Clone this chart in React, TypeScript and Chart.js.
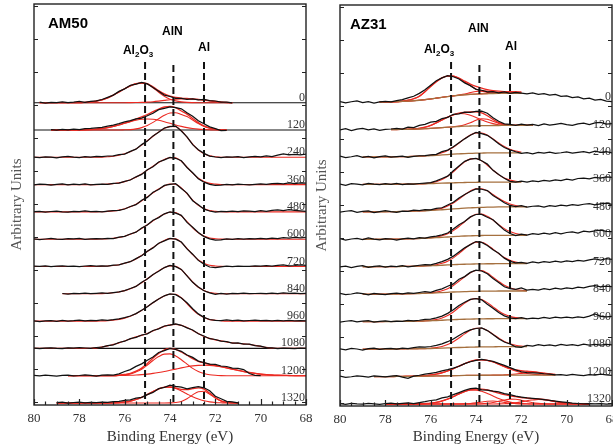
import React, { useEffect, useRef } from "react";
import { Chart, registerables } from "chart.js";

Chart.register(...registerables);

const _ = null;
type Arr = (number | null)[];

// Binding energy grid (eV)
const ENERGY: number[] = [
  80, 79.75, 79.5, 79.25, 79, 78.75, 78.5, 78.25, 78, 77.75,
  77.5, 77.25, 77, 76.75, 76.5, 76.25, 76, 75.75, 75.5, 75.25,
  75, 74.75, 74.5, 74.25, 74, 73.75, 73.5, 73.25, 73, 72.75,
  72.5, 72.25, 72, 71.75, 71.5, 71.25, 71, 70.75, 70.5, 70.25,
  70, 69.75, 69.5, 69.25, 69, 68.75, 68.5, 68.25, 68,
];

const TIMES = ["0", "120", "240", "360", "480", "600", "720", "840", "960", "1080", "1200", "1320"];
const MARKER_ENERGY = [75.1, 73.85, 72.5];
const MARKER_LABELS: [string, boolean][][] = [
  [["Al", false], ["2", true], ["O", false], ["3", true]],
  [["AlN", false]],
  [["Al", false]],
];
const Y_TICKS = [1, 34, 67, 100, 133, 166, 199, 232, 265, 298, 331, 364, 397];

// ---------------- AM50 ----------------
const AM50_EXP_0: Arr = [
  _, 0.5, -0.3, 0.4, 0, 0.8, 0.2, 0.6, 1.2, 0.4,
  1.3, 1.8, 3.2, 5.4, 7.6, 11.3, 13.8, 17.4, 18.6, 20.3,
  18.8, 15.2, 11.4, 7.6, 6.2, 4.3, 4.4, 3.4, 3.9, 2.9,
  3.2, 2.0, 1.7, 0.6, 0.5, -0.2, _, _, _, _,
  _, _, _, _, _, _, _, _, _,
];
const AM50_FIT_0A: Arr = [
  _, 0, 0, 0, 0, 0, 0, 0, 0, 0.3,
  0.8, 1.6, 2.8, 4.8, 7.6, 10.8, 14, 16.8, 18.8, 19.6,
  18.6, 15, 10.5, 6.5, 3.5, 1.8, 0.8, 0.3, 0.1, 0,
  0, 0, 0, 0, 0, 0, _, _, _, _,
  _, _, _, _, _, _, _, _, _,
];
const AM50_FIT_0B: Arr = [
  _, 0, 0, 0, 0, 0, 0, 0, 0, 0,
  0, 0, 0, 0, 0, 0, 0, 0.1, 0.2, 0.3,
  0.6, 1, 1.6, 2.3, 3, 3.5, 3.8, 3.9, 3.7, 3.2,
  2.6, 1.9, 1.2, 0.6, 0.2, 0, _, _, _, _,
  _, _, _, _, _, _, _, _, _,
];
const AM50_EXP_120: Arr = [
  _, _, _, 0.3, -0.2, 0.6, 0.1, 0.9, 0.5, 1.4,
  1.6, 2.2, 2.6, 3.8, 4.9, 6.3, 8.2, 9.3, 11.2, 11.8,
  14.2, 16.8, 20.3, 21.6, 23.2, 22.4, 21.2, 17.3, 13.8, 9.2,
  6.3, 3.2, 1.4, -0.6, -0.3, _, _, _, _, _,
  _, _, _, _, _, _, _, _, _,
];
const AM50_FIT_120A: Arr = [
  _, _, _, 0, 0, 0, 0, 0, 0, 0.2,
  0.5, 0.9, 1.5, 2.4, 3.6, 5.0, 6.7, 8.3, 9.7, 10.7,
  11, 10.7, 9.7, 8.3, 6.7, 5.0, 3.6, 2.4, 1.5, 0.9,
  0.5, 0.2, 0, 0, 0, _, _, _, _, _,
  _, _, _, _, _, _, _, _, _,
];
const AM50_FIT_120B: Arr = [
  _, _, _, 0, 0, 0, 0, 0, 0, 0,
  0, 0, 0, 0, 0, 0, 0.2, 0.4, 1.1, 2.4,
  4.5, 7.6, 11.3, 14.7, 17, 17.3, 15.4, 13.5, 10, 6.5,
  3.6, 1.8, 0.7, 0.2, 0, _, _, _, _, _,
  _, _, _, _, _, _, _, _, _,
];
const AM50_EXP_240: Arr = [
  0.3, -0.4, 0.5, 0.2, -0.6, 0.4, 0.9, 0.1, -0.3, 0.6,
  0.2, 0.8, 0.6, 1.3, 1.5, 2.6, 3.2, 5.9, 8.1, 12.7,
  16.2, 21.4, 25.0, 29.3, 30.6, 31.2, 26.3, 20.5, 12.6, 7.5,
  3.9, 1.2, 0.3, -0.4, 0.5, 0.1, 0.7, -0.2, 0.4, 0.9,
  0.5, 1.4, 0.8, 2.1, 3.3, 2.5, 3.0, 2.4, 3.1,
];
const AM50_FIT_240: Arr = [
  0, 0, 0, 0, 0, 0, 0, 0, 0, 0,
  0, 0, 0.2, 0.6, 1.1, 2, 3.5, 5.6, 8.4, 12.3,
  16.6, 21, 25.4, 28.8, 30.9, 30.6, 26.7, 20.1, 13.1, 7.2,
  3.6, 1.4, 0.6, 0.1, 0, 0, 0, 0, 0, 0,
  0, 0, 0, 0, 0, 0, 0, 0, 0,
];
const AM50_EXP_360: Arr = [
  -0.2, 0.5, 0.3, -0.4, 0.2, 0.6, -0.3, 0.4, 0.1, 0.7,
  -0.2, 0.3, 0.5, 0.2, 1.2, 1.4, 3.3, 4.6, 7.8, 10.2,
  14.9, 17.8, 22.6, 24.7, 27.2, 26.3, 23.8, 17.1, 11.9, 5.8,
  2.4, 0.3, -0.8, -0.5, 0.2, -0.3, 0.4, 0.1, -0.2, 0.3,
  0.6, 0.2, 0.9, 1.3, 0.8, 1.6, 1.1, 1.8, 1.4,
];
const AM50_FIT_360: Arr = [
  0, 0, 0, 0, 0, 0, 0, 0, 0, 0,
  0, 0, 0.2, 0.5, 1, 1.7, 3, 4.9, 7.3, 10.7,
  14.5, 18.3, 22.1, 25.1, 26.9, 26.7, 23.3, 17.5, 11.4, 6.3,
  3.1, 1.2, 0.5, 0.1, 0, 0, 0, 0, 0, 0,
  0, 0, 0, 0, 0, 0, 0, 0, 0,
];
const AM50_EXP_480: Arr = [
  0.2, 0.6, -0.1, 0.4, 0.8, 0.1, -0.3, 0.5, 0.3, 0.9,
  0.2, 0.4, 0.1, 0.8, 1.3, 1.5, 2.9, 5.4, 7.2, 11.6,
  14.5, 19.6, 22.4, 26.5, 27.6, 28.2, 23.5, 18.8, 11.2, 7.1,
  2.7, 0.9, -0.3, 0.6, 0.2, 0.8, 0.3, 1.1, 0.7, 0.4,
  1.2, 0.6, 1.5, 1.9, 1.2, 2.2, 1.6, 1.0, 0.5,
];
const AM50_FIT_480: Arr = [
  0, 0, 0, 0, 0, 0, 0, 0, 0, 0,
  0, 0, 0.2, 0.5, 1, 1.8, 3.2, 5.1, 7.6, 11.1,
  15, 19, 22.9, 26, 27.9, 27.6, 24.1, 18.2, 11.8, 6.5,
  3.3, 1.3, 0.5, 0.1, 0, 0, 0, 0, 0, 0,
  0, 0, 0, 0, 0, 0, 0, 0, 0,
];
const AM50_EXP_600: Arr = [
  0.4, -0.3, 0.2, 0.7, 0.1, -0.2, 0.5, 0.3, 0.8, -0.1,
  0.4, 0.6, 0.3, 0.9, 0.7, 2.1, 2.8, 5.2, 7.0, 11.2,
  14.1, 18.9, 21.6, 25.4, 27.3, 26.1, 23.9, 16.8, 12.0, 6.7,
  2.6, 0.4, -0.8, -0.6, 0.2, -0.2, 0.5, 0.1, 0.6, 0.3,
  0.8, 0.4, 1.0, 0.6, 1.5, 1.1, 1.7, 1.3, 1.9,
];
const AM50_FIT_600: Arr = [
  0, 0, 0, 0, 0, 0, 0, 0, 0, 0,
  0, 0, 0.2, 0.5, 1, 1.7, 3, 4.9, 7.3, 10.7,
  14.5, 18.3, 22.1, 25.1, 26.9, 26.7, 23.3, 17.5, 11.4, 6.3,
  3.1, 1.2, 0.5, 0.1, 0, 0, 0, 0, 0, 0,
  0, 0, 0, 0, 0, 0, 0, 0, 0,
];
const AM50_EXP_720: Arr = [
  0.5, 0.1, 0.6, -0.2, 0.3, 0.7, 0.2, 0.4, -0.1, 0.5,
  0.9, 0.3, 0.6, 0.4, 1.3, 1.6, 3.3, 4.8, 7.9, 10.7,
  15.2, 18.6, 23.3, 25.6, 28.1, 27.4, 24.5, 17.6, 12.3, 6.1,
  2.2, -0.5, -1.2, -0.4, 0.3, -0.2, 0.4, 0.2, 0.1, 0.5,
  0.3, 0.9, 0.4, 1.2, 1.6, 0.7, 1.0, 1.5, 1.2,
];
const AM50_FIT_720: Arr = [
  0, 0, 0, 0, 0, 0, 0, 0, 0, 0,
  0, 0, 0.2, 0.5, 1, 1.8, 3.2, 5.1, 7.6, 11.1,
  15, 19, 22.9, 26, 27.9, 27.6, 24.1, 18.2, 11.8, 6.5,
  3.3, 1.3, 0.5, 0.1, 0, 0, 0, 0, 0, 0,
  0, 0, 0, 0, 0, 0, 0, 0, 0,
];
const AM50_EXP_840: Arr = [
  _, _, _, _, _, 0.3, -0.2, 0.4, 0.1, 0.6,
  0.2, 0.5, 0.9, 0.4, 1.1, 1.9, 3.1, 5.3, 7.4, 11.5,
  14.7, 19.3, 22.5, 26.2, 28.3, 27.1, 24.4, 18.0, 11.5, 6.8,
  3.0, 0.9, -0.5, 0.3, -0.2, 0.4, 0.1, 0.6, 0.2, 0.3,
  0.5, 0.1, 0.7, 0.3, 0.8, 0.4, 0.6, 0.2, 0.5,
];
const AM50_FIT_840: Arr = [
  _, _, _, _, _, 0, 0, 0, 0, 0,
  0, 0, 0.2, 0.5, 1, 1.8, 3.2, 5.1, 7.6, 11.1,
  15, 19, 22.9, 26, 27.9, 27.6, 24.1, 18.2, 11.8, 6.5,
  3.3, 1.3, 0.5, 0.1, 0, 0, 0, 0, 0, 0,
  0, 0, 0, 0, 0, 0, 0, 0, 0,
];
const AM50_EXP_960: Arr = [
  0.2, -0.4, 0.3, 0.5, -0.2, 0.6, 0.1, 0.4, 0.9, 0.3,
  0.7, 0.5, 1.1, 0.8, 1.4, 2.2, 3.4, 5.1, 7.5, 10.9,
  14.3, 18.5, 22.1, 25.3, 27.2, 26.4, 23.2, 18.4, 12.3, 7.2,
  3.7, 1.6, 0.8, 0.4, 1.1, 0.5, 0.9, 0.3, 0.6, 1.0,
  0.4, 0.8, 0.2, 0.6, 0.3, 0.7, 0.2, 0.5, 0.3,
];
const AM50_FIT_960: Arr = [
  0, 0, 0, 0, 0, 0, 0, 0, 0, 0,
  0, 0, 0.2, 0.5, 1, 1.7, 3, 4.9, 7.3, 10.7,
  14.5, 18.3, 22.1, 25.1, 26.9, 26.7, 23.3, 17.5, 11.6, 6.7,
  3.6, 1.5, 0.8, 0.3, 0, 0, 0, 0, 0, 0,
  0, 0, 0, 0, 0, 0, 0, 0, 0,
];
const AM50_EXP_1080: Arr = [
  0.3, -0.3, 0.2, 0.6, 0.1, -0.2, 0.5, 0.2, 0.8, 0.4,
  0.1, 0.9, 1.2, 2.8, 3.6, 5.9, 7.2, 9.8, 11.1, 13.4,
  14.6, 17.9, 19.5, 22.4, 23.2, 24.5, 23.1, 20.6, 18.4, 14.6,
  12.4, 9.7, 8.9, 7.2, 6.8, 5.3, 5.4, 4.2, 4.3, 2.8,
  2.2, 0.8, 0.5, -0.2, 0.3, 0.1, -0.3, 0.2, 0,
];
const AM50_FIT_1080: Arr = [
  0, 0, 0, 0, 0, 0, 0, 0, 0, 0,
  0, 0.5, 1.5, 2.5, 4, 5.5, 7.5, 9.5, 11.5, 13,
  15, 17.5, 20, 22, 23.5, 24, 23, 21, 18, 15,
  12, 10, 8.5, 7.5, 6.5, 5.5, 5, 4.5, 4, 3,
  2, 1, 0.3, 0, 0, 0, 0, 0, 0,
];
const AM50_EXP_1200: Arr = [
  0.4, -0.2, 0.5, 0.1, -0.5, 0.3, 0.6, -0.1, 0.2, 0.7,
  0.3, -0.4, 0.5, 0.9, 0.6, 1.8, 4.2, 6.1, 9.3, 11.8,
  15.4, 18.6, 23.2, 25.1, 27.3, 26.2, 24.4, 20.7, 18.3, 14.6,
  13.2, 11.6, 11.3, 9.7, 9.2, 7.6, 7.3, 6.1, 2.2, 0.4,
  0.1, _, _, _, _, _, _, _, _,
];
const AM50_FIT_1200A: Arr = [
  _, _, _, _, _, _, 0, 0, 0, 0,
  0, 0, 0, 0, 0, 0.3, 0.9, 1.8, 3.8, 6.5,
  10.7, 15.2, 19.1, 21.6, 21.8, 19.8, 15.9, 11.6, 7.3, 4.1,
  2.2, 1.0, 0.4, 0.1, 0, 0, 0, 0, 0, 0,
  0, 0, 0, 0, 0, 0, 0, 0, 0,
];
const AM50_FIT_1200B: Arr = [
  _, _, _, _, _, _, 0, 0, 0, 0,
  0, 0, 0, 0, 0, 0.2, 0.3, 0.45, 0.7, 1.1,
  1.6, 2.3, 3.2, 4.2, 5.4, 6.6, 7.8, 8.9, 9.8, 10.3,
  10.5, 10.3, 9.8, 8.9, 7.8, 6.6, 5.4, 4.2, 3.2, 2.3,
  1.6, 1.1, 0.7, 0.45, 0.3, 0.2, 0.1, 0, 0,
];
const AM50_EXP_1320: Arr = [
  _, _, _, _, 0.3, 0.8, -0.2, 0.5, 0.9, 0.2,
  0.6, 0.4, 0.9, 0.7, 1.4, 1.6, 2.7, 3.2, 4.8, 5.7,
  8.4, 10.6, 14.3, 15.7, 17.8, 16.6, 15.9, 14.2, 15.3, 16.4,
  15.2, 12.3, 6.8, 4.2, 1.6, 1.1, 0.2, _, _, _,
  _, _, _, _, _, _, _, _, _,
];
const AM50_FIT_1320A: Arr = [
  _, _, _, _, 0, 0, 0, 0, 0, 0,
  0, 0, 0, 0, 0.2, 0.4, 1.0, 1.9, 3.5, 5.7,
  8.5, 11.5, 14.1, 15.8, 15.9, 14.5, 12.0, 9.1, 6.2, 3.9,
  2.2, 1.1, 0.5, 0.2, 0, 0, 0, _, _, _,
  _, _, _, _, _, _, _, _, _,
];
const AM50_FIT_1320B: Arr = [
  _, _, _, _, 0, 0, 0, 0, 0, 0,
  0, 0, 0, 0, 0, 0, 0, 0, 0, 0,
  0, 0, 0, 0, 0.1, 0.5, 1.6, 4.2, 8.1, 11.3,
  11.7, 8.8, 4.9, 2.0, 0.6, 0.1, 0, _, _, _,
  _, _, _, _, _, _, _, _, _,
];

// ---------------- AZ31 ----------------
const AZ31_EXP_0: Arr = [
  0.5, -0.8, 0.3, 1.2, -0.5, 0.4, -1.0, 0.2, 0.6, 0.1,
  1.5, 2.4, 4.1, 5.8, 8.7, 12.2, 16.8, 21.3, 24.2, 26.4,
  25.3, 23.1, 19.2, 16.4, 12.7, 11.8, 10.2, 10.5, 9.3, 10.1,
  8.8, 9.6, 8.9, 8.2, 9.1, 7.8, 8.3, 6.9, 7.6, 5.8,
  6.2, 4.4, 5.1, 3.3, 3.8, 1.9, 2.6, 0.9, 0.4,
];
const AZ31_BG_0: Arr = [
  _, _, _, _, _, _, _, 0, 0.1, 0.2,
  0.4, 0.6, 0.9, 1.3, 1.8, 2.4, 3.1, 3.9, 4.7, 5.5,
  6.2, 6.8, 7.3, 7.7, 8.0, 8.2, 8.4, 8.5, 8.6, 8.7,
  8.7, 8.8, 8.8, _, _, _, _, _, _, _,
  _, _, _, _, _, _, _, _, _,
];
const AZ31_FIT_0A: Arr = [
  _, _, _, _, _, _, _, 0, 0, 0,
  0, 0.3, 0.9, 2.0, 4.0, 8.0, 12.5, 16.5, 19.5, 20.5,
  19.7, 16.8, 12.8, 8.6, 5.1, 2.7, 1.3, 0.5, 0.2, 0,
  0, 0, 0, _, _, _, _, _, _, _,
  _, _, _, _, _, _, _, _, _,
];
const AZ31_FIT_0B: Arr = [
  _, _, _, _, _, _, _, 0, 0, 0,
  0, 0, 0, 0, 0, 0, 0, 0, 0, 0,
  0, 0.3, 0.8, 1.7, 2.6, 3.0, 2.7, 1.9, 1.0, 0.4,
  0.1, 0, 0, _, _, _, _, _, _, _,
  _, _, _, _, _, _, _, _, _,
];
const AZ31_FIT_0C: Arr = [
  _, _, _, _, _, _, _, 0, 0, 0,
  0, 0, 0, 0, 0, 0, 0, 0, 0, 0,
  0, 0, 0, 0, 0, 0, 0, 0.6, 1.1, 1.4,
  1.5, 1.4, 1.1, _, _, _, _, _, _, _,
  _, _, _, _, _, _, _, _, _,
];
const AZ31_EXP_120: Arr = [
  -0.5, 0.8, -1.2, 0.3, 1.0, -0.4, 0.6, -0.8, 0.2, 0.5,
  1.1, 0.4, 2.3, 1.8, 4.2, 5.1, 7.3, 8.2, 10.8, 12.1,
  15.2, 15.6, 17.3, 17.1, 18.2, 18.4, 16.3, 11.8, 8.2, 5.6,
  5.2, 4.1, 5.3, 4.4, 5.1, 3.8, 5.6, 4.3, 5.2, 6.1,
  4.8, 4.2, 5.7, 6.3, 5.0, 6.6, 7.2, 5.4, 6.0,
];
const AZ31_BG_120: Arr = [
  _, _, _, _, _, _, _, _, _, 0,
  0, 0.1, 0.2, 0.3, 0.5, 0.8, 1.1, 1.5, 1.9, 2.3,
  2.7, 3.0, 3.3, 3.5, 3.7, 3.8, 3.9, 4.0, 4.0, 4.1,
  4.1, 4.1, 4.1, 4.1, 4.1, _, _, _, _, _,
  _, _, _, _, _, _, _, _, _,
];
const AZ31_FIT_120A: Arr = [
  _, _, _, _, _, _, _, _, _, 0,
  0, 0, 0, 0.3, 0.7, 1.5, 3.0, 5.2, 7.6, 10.1,
  11.9, 13, 12.5, 10.8, 8.4, 5.8, 3.5, 1.9, 0.8, 0.3,
  0, 0, 0, 0, 0, _, _, _, _, _,
  _, _, _, _, _, _, _, _, _,
];
const AZ31_FIT_120B: Arr = [
  _, _, _, _, _, _, _, _, _, 0,
  0, 0, 0, 0, 0, 0, 0, 0, 0, 0,
  0, 0.4, 1.4, 3.3, 5.5, 7.0, 6.4, 4.2, 2.1, 0.8,
  0.2, 0, 0, 0, 0, _, _, _, _, _,
  _, _, _, _, _, _, _, _, _,
];
const AZ31_EXP_240: Arr = [
  0.8, -0.6, 0.2, 1.3, -0.3, 0.5, -0.9, 0.4, 1.1, -0.2,
  0.3, 0.9, -0.4, 0.6, 1.2, 1.4, 2.1, 2.6, 5.3, 6.8,
  10.2, 14.3, 18.1, 21.7, 24.5, 23.4, 21.6, 17.8, 13.2, 9.4,
  7.1, 5.2, 3.6, 4.4, 3.2, 4.6, 3.9, 4.8, 3.5, 4.2,
  5.1, 3.9, 4.6, 5.4, 4.1, 5.8, 4.6, 5.2, 4.0,
];
const AZ31_BG_240: Arr = [
  _, _, _, _, 0, 0, 0, 0, 0, 0.1,
  0.2, 0.3, 0.4, 0.6, 0.8, 1.0, 1.3, 1.6, 2.0, 2.4,
  2.8, 3.1, 3.4, 3.6, 3.8, 3.9, 4.0, 4.0, 4.1, 4.1,
  4.1, 4.1, 4.1, _, _, _, _, _, _, _,
  _, _, _, _, _, _, _, _, _,
];
const AZ31_FIT_240: Arr = [
  _, _, _, _, 0, 0, 0, 0, 0, 0,
  0, 0, 0, 0, 0, 0.1, 0.4, 0.9, 2.1, 4.0,
  6.9, 10.8, 14.9, 18.3, 20.3, 20.1, 17.8, 14.1, 10.0, 6.3,
  3.6, 1.8, 0.8, _, _, _, _, _, _, _,
  _, _, _, _, _, _, _, _, _,
];
const AZ31_EXP_360: Arr = [
  0.4, -0.9, 0.7, 0.2, -0.5, 1.0, 0.3, -0.2, 0.8, 0.1,
  0.9, -0.3, 0.5, 0.2, 0.9, 1.3, 1.8, 3.6, 5.9, 8.3,
  13.6, 18.4, 23.1, 25.2, 26.1, 23.7, 20.3, 14.1, 9.8, 6.2,
  3.1, 2.4, 3.3, 2.2, 3.5, 2.8, 4.1, 3.2, 4.6, 3.8,
  5.2, 4.4, 5.9, 6.3, 5.5, 7.1, 6.4, 7.6, 7.0,
];
const AZ31_BG_360: Arr = [
  _, _, _, _, 0, 0, 0, 0, 0.1, 0.1,
  0.2, 0.2, 0.3, 0.4, 0.5, 0.6, 0.8, 1.0, 1.2, 1.4,
  1.6, 1.8, 1.9, 2.0, 2.1, 2.2, 2.2, 2.3, 2.3, 2.3,
  2.3, 2.3, 2.3, _, _, _, _, _, _, _,
  _, _, _, _, _, _, _, _, _,
];
const AZ31_FIT_360: Arr = [
  _, _, _, _, 0, 0, 0, 0, 0, 0,
  0, 0, 0, 0, 0, 0.2, 0.7, 1.7, 3.6, 6.7,
  11.0, 16.0, 20.6, 23.5, 23.8, 21.3, 17.0, 12.0, 7.5, 4.1,
  2.0, 0.9, 0.3, _, _, _, _, _, _, _,
  _, _, _, _, _, _, _, _, _,
];
const AZ31_EXP_480: Arr = [
  -0.3, 0.6, 1.2, -0.5, 0.4, 0.9, -0.7, 0.3, 1.1, 0.2,
  -0.4, 0.8, 0.5, 1.6, 1.3, 2.2, 1.9, 3.4, 4.1, 6.8,
  9.6, 13.8, 17.4, 20.3, 22.9, 22.6, 21.3, 16.4, 12.8, 9.1,
  6.4, 5.3, 6.1, 4.8, 5.6, 5.9, 4.7, 6.3, 5.4, 6.8,
  5.9, 7.2, 6.4, 7.6, 8.3, 7.1, 7.9, 8.6, 7.5,
];
const AZ31_BG_480: Arr = [
  _, _, _, _, 0, 0, 0, 0.1, 0.1, 0.2,
  0.3, 0.4, 0.5, 0.7, 0.9, 1.1, 1.4, 1.7, 2.1, 2.5,
  2.9, 3.3, 3.7, 4.0, 4.3, 4.5, 4.7, 4.8, 4.9, 5.0,
  5.0, 5.0, 5.0, 5.0, _, _, _, _, _, _,
  _, _, _, _, _, _, _, _, _,
];
const AZ31_FIT_480: Arr = [
  _, _, _, _, 0, 0, 0, 0, 0, 0,
  0, 0, 0, 0, 0, 0, 0.3, 0.7, 1.6, 3.3,
  5.9, 9.5, 13.4, 16.9, 18.8, 18.6, 16.3, 12.6, 8.7, 5.3,
  2.9, 1.4, 0.6, 0.2, _, _, _, _, _, _,
  _, _, _, _, _, _, _, _, _,
];
const AZ31_EXP_600: Arr = [
  0.6, -0.8, 0.3, 0.9, -0.4, 1.4, 0.2, -0.6, 0.7, 0.3,
  -0.9, 0.5, 1.1, 0.4, 1.6, 1.2, 2.4, 3.1, 4.4, 6.3,
  10.2, 14.6, 17.8, 22.4, 24.8, 24.9, 22.1, 19.6, 14.3, 9.2,
  5.8, 3.6, 5.2, 4.3, 5.7, 4.9, 6.1, 5.3, 6.6, 5.4,
  6.8, 7.4, 6.2, 8.1, 7.5, 8.4, 9.2, 8.0, 7.6,
];
const AZ31_BG_600: Arr = [
  _, _, _, _, 0, 0, 0, 0.1, 0.1, 0.2,
  0.2, 0.3, 0.4, 0.6, 0.8, 1.0, 1.3, 1.6, 2.0, 2.3,
  2.7, 3.0, 3.3, 3.5, 3.7, 3.8, 3.9, 4.0, 4.0, 4.0,
  4.0, 4.0, 4.0, 4.0, _, _, _, _, _, _,
  _, _, _, _, _, _, _, _, _,
];
const AZ31_FIT_600: Arr = [
  _, _, _, _, 0, 0, 0, 0, 0, 0,
  0, 0, 0, 0, 0, 0, 0.2, 0.6, 1.5, 3.2,
  6.0, 9.8, 14.3, 18.5, 21.3, 21.4, 19.1, 15.2, 10.7, 6.7,
  3.7, 1.8, 0.8, 0.3, _, _, _, _, _, _,
  _, _, _, _, _, _, _, _, _,
];
const AZ31_EXP_720: Arr = [
  -0.2, 0.7, -0.9, 0.4, 1.0, -0.5, 0.3, 0.8, -0.3, 0.6,
  0.2, 1.1, -0.2, 0.7, 1.5, 2.1, 1.8, 3.3, 5.2, 7.4,
  10.6, 14.8, 18.9, 22.1, 25.2, 24.3, 21.2, 17.1, 13.4, 8.6,
  5.4, 3.9, 4.4, 3.5, 4.8, 3.9, 5.1, 4.4, 5.6, 4.6,
  5.8, 5.1, 6.4, 5.6, 6.9, 7.8, 6.6, 8.2, 7.4,
];
const AZ31_BG_720: Arr = [
  _, _, _, _, 0, 0, 0, 0.1, 0.1, 0.1,
  0.2, 0.3, 0.4, 0.5, 0.6, 0.8, 1.0, 1.2, 1.5, 1.8,
  2.1, 2.3, 2.5, 2.7, 2.8, 2.9, 3.0, 3.0, 3.1, 3.1,
  3.1, 3.1, 3.1, 3.1, _, _, _, _, _, _,
  _, _, _, _, _, _, _, _, _,
];
const AZ31_FIT_720: Arr = [
  _, _, _, _, 0, 0, 0, 0, 0, 0,
  0, 0, 0, 0, 0, 0, 0.3, 0.8, 1.9, 3.8,
  6.8, 11.0, 15.5, 19.6, 21.8, 21.6, 18.9, 14.6, 10.1, 6.1,
  3.4, 1.6, 0.7, 0.3, _, _, _, _, _, _,
  _, _, _, _, _, _, _, _, _,
];
const AZ31_EXP_840: Arr = [
  0.9, -0.4, 0.2, 1.3, 0.5, -0.7, 0.8, 0.1, -0.5, 0.6,
  1.0, 0.3, 1.4, 0.8, 1.7, 2.5, 1.9, 3.8, 5.4, 7.9,
  10.3, 14.9, 17.6, 21.8, 24.1, 23.2, 20.4, 15.6, 11.8, 7.4,
  5.6, 4.8, 6.2, 4.1, 4.9, 4.2, 5.5, 4.6, 6.0, 5.1,
  6.3, 5.7, 7.1, 6.4, 7.8, 8.6, 7.3, 8.1, 7.6,
];
const AZ31_BG_840: Arr = [
  _, _, _, _, 0, 0, 0, 0.1, 0.1, 0.2,
  0.2, 0.3, 0.4, 0.5, 0.7, 0.9, 1.1, 1.3, 1.6, 1.9,
  2.2, 2.4, 2.6, 2.8, 2.9, 3.0, 3.1, 3.1, 3.2, 3.2,
  3.2, 3.2, 3.2, 3.2, _, _, _, _, _, _,
  _, _, _, _, _, _, _, _, _,
];
const AZ31_FIT_840: Arr = [
  _, _, _, _, 0, 0, 0, 0, 0, 0,
  0, 0, 0, 0, 0, 0, 0.3, 0.8, 1.8, 3.6,
  6.5, 10.5, 14.8, 18.7, 20.8, 20.6, 18.0, 13.9, 9.6, 5.8,
  3.2, 1.5, 0.7, 0.3, _, _, _, _, _, _,
  _, _, _, _, _, _, _, _, _,
];
const AZ31_EXP_960: Arr = [
  -0.6, 0.4, 0.9, -0.3, 0.5, 1.1, -0.4, 0.2, 0.7, 0.1,
  0.6, 0.2, 1.3, 0.9, 1.4, 2.2, 2.6, 3.7, 5.6, 8.3,
  11.9, 16.2, 19.4, 22.3, 23.1, 21.8, 17.4, 13.5, 9.1, 5.8,
  3.7, 3.1, 3.9, 2.8, 3.6, 3.0, 4.2, 3.4, 4.4, 3.7,
  4.5, 3.9, 4.8, 4.1, 5.6, 7.8, 5.3, 4.9, 5.4,
];
const AZ31_BG_960: Arr = [
  _, _, _, _, 0, 0, 0, 0, 0.1, 0.1,
  0.2, 0.2, 0.3, 0.4, 0.5, 0.7, 0.9, 1.1, 1.4, 1.7,
  2.0, 2.2, 2.4, 2.6, 2.7, 2.8, 2.9, 2.9, 3.0, 3.0,
  3.0, 3.0, 3.0, 3.0, _, _, _, _, _, _,
  _, _, _, _, _, _, _, _, _,
];
const AZ31_FIT_960: Arr = [
  _, _, _, _, 0, 0, 0, 0, 0, 0,
  0, 0, 0, 0, 0, 0.1, 0.4, 1.0, 2.3, 4.4,
  7.7, 11.9, 16.1, 19.3, 20.5, 19.3, 16.1, 11.9, 7.7, 4.4,
  2.3, 1.0, 0.4, 0.1, _, _, _, _, _, _,
  _, _, _, _, _, _, _, _, _,
];
const AZ31_EXP_1080: Arr = [
  0.3, -0.7, 0.6, 0.1, -0.9, 0.4, 1.0, -0.2, 0.5, 0.8,
  0.1, 0.9, 0.4, 1.5, 2.3, 1.9, 2.6, 3.8, 5.2, 7.4,
  10.1, 13.6, 16.8, 19.2, 20.6, 21.1, 18.5, 14.6, 10.3, 7.1,
  5.1, 2.3, 1.8, 3.7, 2.9, 4.5, 3.6, 4.2, 3.3, 4.7,
  3.8, 4.4, 3.6, 4.9, 4.1, 4.6, 3.9, 4.8, 4.3,
];
const AZ31_BG_1080: Arr = [
  _, _, _, _, 0, 0, 0, 0, 0.1, 0.1,
  0.1, 0.2, 0.3, 0.3, 0.4, 0.5, 0.6, 0.8, 1.0, 1.2,
  1.4, 1.6, 1.8, 2.0, 2.1, 2.2, 2.3, 2.3, 2.4, 2.4,
  2.4, 2.4, 2.4, 2.4, _, _, _, _, _, _,
  _, _, _, _, _, _, _, _, _,
];
const AZ31_FIT_1080: Arr = [
  _, _, _, _, 0, 0, 0, 0, 0, 0,
  0, 0, 0, 0, 0, 0, 0.3, 0.7, 1.6, 3.3,
  5.9, 9.5, 13.4, 16.9, 18.8, 18.6, 16.3, 12.6, 8.7, 5.3,
  2.9, 1.4, 0.6, 0.2, _, _, _, _, _, _,
  _, _, _, _, _, _, _, _, _,
];
const AZ31_EXP_1200: Arr = [
  0.4, -0.8, -0.2, 0.6, 0.1, -0.5, 0.7, 0.2, -0.3, 0.5,
  0.9, -0.6, -1.8, 0.4, 1.3, 2.4, 3.2, 4.1, 5.6, 6.9,
  8.4, 10.3, 12.9, 14.8, 16.2, 17.1, 16.3, 15.2, 13.1, 11.2,
  8.9, 6.6, 4.8, 3.9, 3.6, 3.4, 2.8, 2.5, 1.6, 1.9,
  1.3, 2.2, 1.5, 0.9, 2.0, 1.4, 2.4, 1.7, 1.1,
];
const AZ31_BG_1200: Arr = [
  _, _, _, _, _, _, 0, 0, 0, 0,
  0.1, 0.1, 0.2, 0.2, 0.3, 0.4, 0.5, 0.6, 0.7, 0.8,
  0.9, 1.0, 1.1, 1.2, 1.2, 1.3, 1.3, 1.4, 1.4, 1.4,
  1.5, 1.5, 1.5, 1.5, 1.5, 1.5, 1.5, 1.5, 1.5, _,
  _, _, _, _, _, _, _, _, _,
];
const AZ31_FIT_1200A: Arr = [
  _, _, _, _, _, _, 0, 0, 0, 0,
  0, 0, 0, 0.1, 0.3, 0.5, 1.1, 1.9, 3.1, 4.8,
  7.0, 9.4, 11.8, 13.9, 15.2, 15.5, 14.8, 13.3, 11.0, 8.4,
  6.0, 4.0, 2.6, 1.5, 0.8, 0.4, 0.2, 0, 0, _,
  _, _, _, _, _, _, _, _, _,
];
const AZ31_FIT_1200B: Arr = [
  _, _, _, _, _, _, 0, 0, 0, 0,
  0, 0, 0, 0, 0, 0, 0, 0, 0, 0,
  0, 0, 0, 0, 0, 0, 0, 0, 0, 0.3,
  0.6, 1.1, 1.7, 2.3, 2.5, 2.3, 1.7, 1.1, 0.6, _,
  _, _, _, _, _, _, _, _, _,
];
const AZ31_EXP_1320: Arr = [
  0.3, -0.4, 0.6, 0.1, -0.2, 0.5, 0.2, -0.3, 0.4, 0.8,
  0.2, 0.6, 1.0, 0.5, 1.4, 2.3, 3.5, 4.2, 6.1, 7.2,
  9.3, 11.4, 13.6, 15.4, 15.8, 14.2, 13.9, 12.8, 12.1, 10.3,
  9.4, 7.8, 6.9, 6.1, 5.6, 5.2, 4.4, 3.6, 2.9, 2.2,
  1.6, 0.9, 0.5, 0.2, 0.4, 0.1, 0.3, -0.2, 0.2,
];
const AZ31_FIT_1320A: Arr = [
  _, _, _, _, _, _, _, _, 0, 0,
  0, 0, 0, 0, 0.1, 0.4, 0.8, 1.7, 3.0, 4.9,
  7.4, 10.1, 12.3, 13.8, 13.9, 12.7, 10.5, 8.0, 5.4, 3.4,
  1.9, 1.0, 0.4, 0.2, 0, 0, 0, 0, 0, 0,
  0, 0, 0, 0, 0, _, _, _, _,
];
const AZ31_FIT_1320B: Arr = [
  _, _, _, _, _, _, _, _, 0, 0,
  0, 0, 0, 0, 0, 0, 0, 0, 0, 0,
  0, 0, 0.2, 0.5, 1.1, 2.0, 2.8, 3.0, 2.5, 1.6,
  0.8, 0.4, 0.1, 0, 0, 0, 0, 0, 0, 0,
  0, 0, 0, 0, 0, _, _, _, _,
];
const AZ31_FIT_1320C: Arr = [
  _, _, _, _, _, _, _, _, 0, 0,
  0, 0, 0, 0, 0, 0, 0, 0, 0, 0,
  0, 0, 0, 0, 0, 0.2, 0.7, 1.5, 2.8, 4.0,
  4.9, 4.8, 3.8, 2.5, 1.3, 0.6, 0.2, 0, 0, 0,
  0, 0, 0, 0, 0, _, _, _, _,
];
const AZ31_FIT_1320D: Arr = [
  _, _, _, _, _, _, _, _, 0, 0,
  0, 0, 0, 0, 0, 0, 0, 0, 0, 0,
  0, 0, 0, 0, 0, 0, 0, 0, 0.1, 0.3,
  0.6, 1.2, 2.1, 3.3, 4.0, 4.5, 4.3, 3.5, 2.5, 1.5,
  0.8, 0.4, 0.2, 0, 0, _, _, _, _,
];

// ---------------- assembly ----------------
interface Spec { exp: Arr; fits: Arr[]; bg?: Arr; zero?: boolean }

const AM50_SPECTRA: Spec[] = [
  { exp: AM50_EXP_0, fits: [AM50_FIT_0A, AM50_FIT_0B], zero: true },
  { exp: AM50_EXP_120, fits: [AM50_FIT_120A, AM50_FIT_120B], zero: true },
  { exp: AM50_EXP_240, fits: [AM50_FIT_240] },
  { exp: AM50_EXP_360, fits: [AM50_FIT_360] },
  { exp: AM50_EXP_480, fits: [AM50_FIT_480] },
  { exp: AM50_EXP_600, fits: [AM50_FIT_600] },
  { exp: AM50_EXP_720, fits: [AM50_FIT_720] },
  { exp: AM50_EXP_840, fits: [AM50_FIT_840] },
  { exp: AM50_EXP_960, fits: [AM50_FIT_960] },
  { exp: AM50_EXP_1080, fits: [AM50_FIT_1080], zero: true },
  { exp: AM50_EXP_1200, fits: [AM50_FIT_1200A, AM50_FIT_1200B] },
  { exp: AM50_EXP_1320, fits: [AM50_FIT_1320A, AM50_FIT_1320B] },
];

const AZ31_SPECTRA: Spec[] = [
  { exp: AZ31_EXP_0, fits: [AZ31_FIT_0A, AZ31_FIT_0B, AZ31_FIT_0C], bg: AZ31_BG_0 },
  { exp: AZ31_EXP_120, fits: [AZ31_FIT_120A, AZ31_FIT_120B], bg: AZ31_BG_120 },
  { exp: AZ31_EXP_240, fits: [AZ31_FIT_240], bg: AZ31_BG_240 },
  { exp: AZ31_EXP_360, fits: [AZ31_FIT_360], bg: AZ31_BG_360 },
  { exp: AZ31_EXP_480, fits: [AZ31_FIT_480], bg: AZ31_BG_480 },
  { exp: AZ31_EXP_600, fits: [AZ31_FIT_600], bg: AZ31_BG_600 },
  { exp: AZ31_EXP_720, fits: [AZ31_FIT_720], bg: AZ31_BG_720 },
  { exp: AZ31_EXP_840, fits: [AZ31_FIT_840], bg: AZ31_BG_840 },
  { exp: AZ31_EXP_960, fits: [AZ31_FIT_960], bg: AZ31_BG_960 },
  { exp: AZ31_EXP_1080, fits: [AZ31_FIT_1080], bg: AZ31_BG_1080 },
  { exp: AZ31_EXP_1200, fits: [AZ31_FIT_1200A, AZ31_FIT_1200B], bg: AZ31_BG_1200 },
  { exp: AZ31_EXP_1320, fits: [AZ31_FIT_1320A, AZ31_FIT_1320B, AZ31_FIT_1320C, AZ31_FIT_1320D] },
];

const SERIF = "'Liberation Serif', 'DejaVu Serif', serif";
const SANS = "'Liberation Sans', Arial, sans-serif";
const BLACK = "#111111";
const RED = "#ec2a22";
const BROWN = "#a5703f";
const Y_MIN = -2;
const Y_MAX = 399;

interface PanelCfg {
  name: string;
  spectra: Spec[];
  step: number;
  markerTop: number[];
  padTop: number;
  padRight: number;
  yWidth: number;
  xHeight: number;
  yTitlePad: number;
  nameDx: number;
  peakDx: number[];
  peakDy: number[];
}

const LEFT_PANEL: PanelCfg = {
  name: "AM50", spectra: AM50_SPECTRA, step: 27.3, markerTop: [341, 338, 341],
  padTop: 4, padRight: 14, yWidth: 34, xHeight: 43, yTitlePad: 8, nameDx: 14,
  peakDx: [-7, -1, 0], peakDy: [50, 31, 47],
};
const RIGHT_PANEL: PanelCfg = {
  name: "AZ31", spectra: AZ31_SPECTRA, step: 27.45, markerTop: [342, 339, 342],
  padTop: 5, padRight: 1, yWidth: 30, xHeight: 42, yTitlePad: 3, nameDx: 10,
  peakDx: [-12, -1, 1], peakDy: [48, 27, 45],
};

function pts(vals: Arr, base: number, add?: Arr) {
  const out: { x: number; y: number }[] = [];
  ENERGY.forEach((x, i) => {
    const v = vals[i];
    if (v == null) return;
    const a = add ? add[i] : null;
    out.push({ x, y: base + v + (a == null ? 0 : a) });
  });
  return out;
}

function sumOf(arrs: Arr[]): Arr {
  return ENERGY.map((_e, i) => {
    let s = 0;
    let any = false;
    arrs.forEach((a) => {
      const v = a[i];
      if (v != null) { s += v; any = true; }
    });
    return any ? s : null;
  });
}

function buildDatasets(cfg: PanelCfg) {
  const ds: any[] = [];
  const n = cfg.spectra.length;
  cfg.spectra.forEach((s, k) => {
    const base = (n - 1 - k) * cfg.step;
    if (s.zero) {
      ds.push({ data: [{ x: 80, y: base }, { x: 68, y: base }], borderColor: BLACK, borderWidth: 1.1, order: 4 });
    }
    s.fits.forEach((f) => {
      ds.push({ data: pts(f, base, s.bg), borderColor: RED, borderWidth: 1.1, order: 3, cubicInterpolationMode: "monotone" });
    });
    if (s.fits.length > 1) {
      ds.push({ data: pts(sumOf(s.fits), base, s.bg), borderColor: RED, borderWidth: 1.3, order: 2, cubicInterpolationMode: "monotone" });
    }
    if (s.bg) {
      ds.push({ data: pts(s.bg, base), borderColor: BROWN, borderWidth: 1.3, order: 1, cubicInterpolationMode: "monotone" });
    }
    ds.push({ data: pts(s.exp, base), borderColor: BLACK, borderWidth: 1.25, order: 0 });
  });
  MARKER_ENERGY.forEach((e, j) => {
    ds.push({ data: [{ x: e, y: cfg.markerTop[j] }, { x: e, y: Y_MIN }], borderColor: BLACK, borderWidth: 2, borderDash: [7, 4], order: -1 });
  });
  return ds.map((d) => ({ pointRadius: 0, fill: false, tension: 0, spanGaps: false, ...d }));
}

function drawParts(ctx: CanvasRenderingContext2D, parts: [string, boolean][], cx: number, y: number) {
  const mainFont = `bold 12px ${SANS}`;
  const subFont = `bold 8px ${SANS}`;
  let total = 0;
  parts.forEach(([t, sub]) => { ctx.font = sub ? subFont : mainFont; total += ctx.measureText(t).width; });
  let x = cx - total / 2;
  parts.forEach(([t, sub]) => {
    ctx.font = sub ? subFont : mainFont;
    ctx.fillText(t, x, sub ? y + 3 : y);
    x += ctx.measureText(t).width;
  });
}

function makePlugin(cfg: PanelCfg) {
  const n = cfg.spectra.length;
  return {
    id: "xpsDecor" + cfg.name,
    beforeDatasetsDraw(chart: any) {
      const { ctx, chartArea: a, scales } = chart;
      const ys = scales.y;
      ctx.save();
      ctx.font = `12px ${SERIF}`;
      ctx.fillStyle = "#333";
      ctx.textAlign = "right";
      ctx.textBaseline = "alphabetic";
      cfg.spectra.forEach((_s, k) => {
        const base = (n - 1 - k) * cfg.step;
        ctx.fillText(TIMES[k], a.right - 1, ys.getPixelForValue(base) - 2);
      });
      ctx.restore();
    },
    afterDatasetsDraw(chart: any) {
      const { ctx, chartArea: a, scales } = chart;
      const xs = scales.x;
      const ys = scales.y;
      ctx.save();
      ctx.strokeStyle = "#222";
      ctx.lineWidth = 1.4;
      ctx.strokeRect(a.left, a.top, a.right - a.left, a.bottom - a.top);
      ctx.lineWidth = 1.2;
      ctx.beginPath();
      for (let e = 68; e <= 80.001; e += 0.5) {
        const px = Math.round(xs.getPixelForValue(e)) + 0.5;
        const len = Math.abs(e % 2) < 0.01 ? 6 : 3.5;
        ctx.moveTo(px, a.bottom);
        ctx.lineTo(px, a.bottom - len);
      }
      Y_TICKS.forEach((v) => {
        const py = Math.round(ys.getPixelForValue(v)) + 0.5;
        ctx.moveTo(a.left, py);
        ctx.lineTo(a.left + 4, py);
        ctx.moveTo(a.right, py);
        ctx.lineTo(a.right - 4, py);
      });
      ctx.stroke();
      ctx.fillStyle = "#000";
      ctx.textAlign = "left";
      ctx.textBaseline = "alphabetic";
      ctx.font = `bold 15px ${SANS}`;
      ctx.fillText(cfg.name, a.left + cfg.nameDx, a.top + 24);
      MARKER_ENERGY.forEach((e, j) => {
        const cx = xs.getPixelForValue(e) + cfg.peakDx[j];
        drawParts(ctx, MARKER_LABELS[j], cx, a.top + cfg.peakDy[j]);
      });
      ctx.restore();
    },
  };
}

function buildConfig(cfg: PanelCfg): any {
  return {
    type: "line",
    data: { datasets: buildDatasets(cfg) },
    options: {
      animation: false,
      responsive: false,
      maintainAspectRatio: false,
      events: [],
      layout: { padding: { top: cfg.padTop, right: cfg.padRight, left: 0, bottom: 0 } },
      plugins: { legend: { display: false }, tooltip: { enabled: false } },
      scales: {
        x: {
          type: "linear",
          min: 68,
          max: 80,
          reverse: true,
          ticks: { stepSize: 2, font: { family: SERIF, size: 13 }, color: "#333", padding: 6, maxRotation: 0, autoSkip: false },
          grid: { display: false, drawTicks: false },
          border: { display: false },
          title: { display: true, text: "Binding Energy (eV)", font: { family: SERIF, size: 15 }, color: "#333", padding: { top: 0, bottom: 2 } },
          afterFit: (s: any) => { s.height = cfg.xHeight; s.paddingLeft = 0; s.paddingRight = 0; },
        },
        y: {
          type: "linear",
          min: Y_MIN,
          max: Y_MAX,
          ticks: { display: false },
          grid: { display: false, drawTicks: false },
          border: { display: false },
          title: { display: true, text: "Arbitrary Units", font: { family: SERIF, size: 15 }, color: "#555", padding: { top: cfg.yTitlePad, bottom: 0 } },
          afterFit: (s: any) => { s.width = cfg.yWidth; s.paddingTop = 0; s.paddingBottom = 0; },
        },
      },
    },
    plugins: [makePlugin(cfg)],
  };
}

function Panel({ cfg, left, width }: { cfg: PanelCfg; left: number; width: number }) {
  const ref = useRef<HTMLCanvasElement | null>(null);
  useEffect(() => {
    if (!ref.current) return;
    const chart = new Chart(ref.current, buildConfig(cfg));
    return () => chart.destroy();
  }, [cfg]);
  return (
    <canvas
      ref={ref}
      width={width}
      height={448}
      style={{ position: "absolute", left, top: 0, width, height: 448 }}
    />
  );
}

export default function App() {
  return (
    <div style={{ position: "fixed", left: 0, top: 0, width: 613, height: 448, background: "#fff", overflow: "hidden" }}>
      <Panel cfg={LEFT_PANEL} left={0} width={320} />
      <Panel cfg={RIGHT_PANEL} left={310} width={303} />
    </div>
  );
}
